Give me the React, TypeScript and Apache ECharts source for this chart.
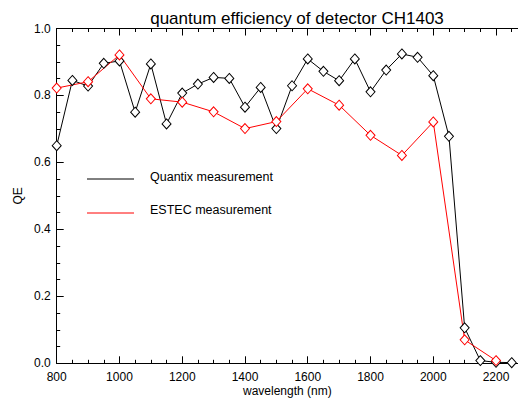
import React, { useEffect, useRef } from "react";
import * as echarts from "echarts";

const quantixWavelengths = [800, 850, 900, 950, 1000, 1050, 1100, 1150, 1200, 1250, 1300, 1350, 1400, 1450, 1500, 1550, 1600, 1650, 1700, 1750, 1800, 1850, 1900, 1950, 2000, 2050, 2100, 2150, 2200, 2250];
const quantixQE = [0.650, 0.845, 0.828, 0.896, 0.903, 0.750, 0.894, 0.715, 0.807, 0.834, 0.854, 0.851, 0.765, 0.824, 0.701, 0.829, 0.909, 0.872, 0.844, 0.909, 0.811, 0.876, 0.924, 0.914, 0.859, 0.678, 0.106, 0.008, 0.003, 0.002];

const estecWavelengths = [800, 900, 1000, 1100, 1200, 1300, 1400, 1500, 1600, 1700, 1800, 1900, 2000, 2100, 2200];
const estecQE = [0.822, 0.841, 0.921, 0.790, 0.780, 0.751, 0.701, 0.722, 0.820, 0.771, 0.681, 0.621, 0.721, 0.070, 0.008];

const xTickLabels = [800, 1000, 1200, 1400, 1600, 1800, 2000, 2200];
const yTickLabels = ["0.0", "0.2", "0.4", "0.6", "0.8", "1.0"];

const FONT = "Liberation Sans";

export default function App() {
  const ref = useRef<HTMLDivElement>(null);
  useEffect(() => {
    if (!ref.current) return;
    const chart = echarts.init(ref.current, null, { renderer: "svg" });
    const axisCommon = {
      axisLine: { show: true, lineStyle: { color: "#000", width: 1 } },
      axisTick: { show: true, inside: true, length: 7, lineStyle: { color: "#000" } },
      minorTick: { show: true, splitNumber: 4, length: 3.5, lineStyle: { color: "#000" } },
      splitLine: { show: false },
    };
    chart.setOption({
      animation: false,
      backgroundColor: "#fff",
      title: {
        text: "quantum efficiency of detector CH1403",
        left: 292,
        textAlign: "center",
        top: 5,
        textStyle: { fontFamily: FONT, fontSize: 17, fontWeight: "normal", color: "#000" },
      },
      grid: { left: 56.7, right: 0, top: 28.5, bottom: 34.7, outerBoundsMode: "none", containLabel: false },
      xAxis: [
        {
          type: "value",
          min: 800,
          max: 2270,
          interval: 200,
          name: "wavelength (nm)",
          nameLocation: "middle",
          nameGap: 21,
          nameMoveOverlap: false,
          nameTextStyle: { fontFamily: FONT, fontSize: 12, color: "#000", lineHeight: 13 },
          ...axisCommon,
          axisLabel: {
            margin: 8,
            fontFamily: FONT,
            fontSize: 12,
            color: "#000",
            showMaxLabel: false,
            formatter: (v: number) => (xTickLabels.includes(v) ? String(v) : ""),
          },
        },
        {
          type: "value",
          position: "top",
          min: 800,
          max: 2270,
          interval: 200,
          ...axisCommon,
          axisLabel: { show: false },
        },
      ],
      yAxis: {
        type: "value",
        min: 0,
        max: 1,
        interval: 0.2,
        name: "QE",
        nameLocation: "middle",
        nameGap: 33,
        nameMoveOverlap: false,
        nameRotate: 90,
        nameTextStyle: { fontFamily: FONT, fontSize: 12, color: "#000" },
        ...axisCommon,
        axisLabel: {
          margin: 6,
          fontFamily: FONT,
          fontSize: 12,
          color: "#000",
          formatter: (v: number) => yTickLabels[Math.round(v * 5)] ?? "",
        },
      },
      graphic: [
        { type: "line", shape: { x1: 87, y1: 179, x2: 134, y2: 179 }, style: { stroke: "#000", lineWidth: 1 } },
        { type: "text", x: 150, y: 176.5, style: { text: "Quantix measurement", fill: "#000", font: `12.5px ${FONT}`, textVerticalAlign: "middle" } },
        { type: "line", shape: { x1: 87, y1: 213, x2: 134, y2: 213 }, style: { stroke: "#f00", lineWidth: 1 } },
        { type: "text", x: 150, y: 209.5, style: { text: "ESTEC measurement", fill: "#000", font: `12.5px ${FONT}`, textVerticalAlign: "middle" } },
      ],
      series: [
        {
          name: "Quantix measurement",
          type: "line",
          data: quantixWavelengths.map((w, i) => [w, quantixQE[i]]),
          symbol: "diamond",
          symbolSize: [9, 10],
          lineStyle: { color: "#000", width: 1 },
          itemStyle: { color: "#fff", borderColor: "#000", borderWidth: 1 },
          clip: true,
        },
        {
          name: "ESTEC measurement",
          type: "line",
          data: estecWavelengths.map((w, i) => [w, estecQE[i]]),
          symbol: "diamond",
          symbolSize: [9, 10],
          lineStyle: { color: "#f00", width: 1 },
          itemStyle: { color: "#fff", borderColor: "#f00", borderWidth: 1 },
          clip: true,
        },
      ],
    });
    return () => chart.dispose();
  }, []);
  return <div ref={ref} style={{ position: "fixed", left: 0, top: 0, width: 518, height: 398 }} />;
}
